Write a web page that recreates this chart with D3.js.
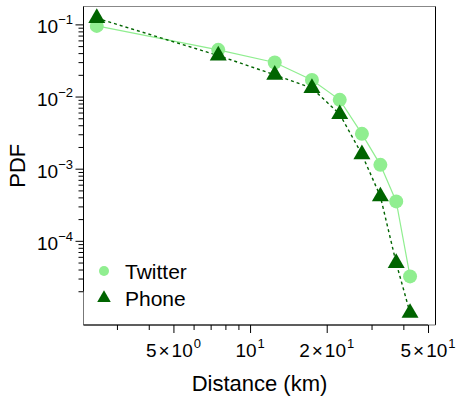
<!DOCTYPE html>
<html>
<head>
<meta charset="utf-8">
<script src="https://cdn.jsdelivr.net/npm/d3@7"></script>
<style>
  html, body { margin: 0; padding: 0; background: #fff; }
  svg { display: block; font-family: "Liberation Sans", Arial, sans-serif; }
</style>
</head>
<body>
<svg id="chart" width="457" height="398"></svg>
<script>
// ---- data ----
const distances = [2.5, 7.5, 12.5, 17.5, 22.5, 27.5, 32.5, 37.5, 42.5];
const twitterPDF = [0.0953, 0.0444, 0.0296, 0.0170, 0.0090, 0.00304, 0.00113, 0.000352, 0.0000321];
const phonePDF = [0.122, 0.0370, 0.0200, 0.0131, 0.00569, 0.00158, 0.000412, 0.0000493, 0.0000100];
const seriesNames = ["Twitter", "Phone"];
const xTickValues = [5, 10, 20, 50];
const xTickMantissa = ["5", "", "2", "5"];
const xTickExponent = ["0", "1", "1", "1"];
const xMinorTicks = [3, 4, 6, 7, 8, 9, 30, 40];
const yTickValues = [1e-1, 1e-2, 1e-3, 1e-4];
const yTickExponent = ["\u22121", "\u22122", "\u22123", "\u22124"];
const xTitle = "Distance (km)";
const yTitle = "PDF";

// ---- layout ----
const L = 83.5, R = 435.5, T = 6.5, B = 325;
const svg = d3.select("#chart");

const x = d3.scaleLog().domain([2.217, 53.5]).range([L, R]);
const y = d3.scaleLog().domain([0.177, 6.81e-6]).range([T, B]);

const yMinor = [];
[1e-1, 1e-2, 1e-3, 1e-4, 1e-5].forEach(d => {
  for (let k = 2; k <= 9; k++) {
    const v = k * d;
    if (v < 0.177 && v > 6.81e-6) yMinor.push(v);
  }
});

const light = "#90EE90", dark = "#006400";

// box
svg.append("line").attr("x1", L).attr("x2", R).attr("y1", T).attr("y2", T)
  .attr("stroke", "#888").attr("stroke-width", 1);
svg.append("line").attr("x1", R).attr("x2", R).attr("y1", T).attr("y2", B)
  .attr("stroke", "#000").attr("stroke-width", 1);
svg.append("line").attr("x1", L).attr("x2", L).attr("y1", T).attr("y2", B)
  .attr("stroke", "#777").attr("stroke-width", 1);
svg.append("line").attr("x1", L).attr("x2", R).attr("y1", B).attr("y2", B)
  .attr("stroke", "#777").attr("stroke-width", 1);

// Y axis
const yAxisMajor = d3.axisLeft(y).tickValues(yTickValues).tickSize(8).tickFormat("");
const yAxisMinor = d3.axisLeft(y).tickValues(yMinor).tickSize(5).tickFormat("");
const gy = svg.append("g").attr("transform", `translate(${L},0)`);
gy.call(yAxisMajor);
svg.append("g").attr("transform", `translate(${L},0)`).call(yAxisMinor).select(".domain").remove();
gy.select(".domain").attr("d", `M0,${T}V${y(2e-5)}`);
svg.selectAll("g .tick line").attr("stroke", "#000");
svg.selectAll(".domain").attr("stroke", "#000");

yTickValues.forEach((v, i) => {
  const t = svg.append("text")
    .attr("x", 73).attr("y", y(v) + 9)
    .attr("text-anchor", "end")
    .attr("font-size", 19).attr("fill", "#000");
  t.append("tspan").text("10");
  t.append("tspan").attr("dy", -9).attr("font-size", 13).text(yTickExponent[i]);
});

// X axis
const xAxisMajor = d3.axisBottom(x).tickValues(xTickValues).tickSize(8).tickFormat("");
const xAxisMinor = d3.axisBottom(x).tickValues(xMinorTicks).tickSize(5).tickFormat("");
const gx = svg.append("g").attr("transform", `translate(0,${B})`);
gx.call(xAxisMajor);
gx.select(".domain").attr("d", `M${L},0H${x(50)}`).attr("stroke", "#000");
svg.append("g").attr("transform", `translate(0,${B})`).call(xAxisMinor).select(".domain").remove();
svg.selectAll("g .tick line").attr("stroke", "#000");

xTickValues.forEach((v, i) => {
  const t = svg.append("text")
    .attr("x", x(v)).attr("y", 357)
    .attr("text-anchor", "middle")
    .attr("font-size", 19).attr("fill", "#000");
  if (xTickMantissa[i]) {
    t.append("tspan").text(xTickMantissa[i]);
    t.append("tspan").attr("dx", 2).text("\u00D7");
    t.append("tspan").attr("dx", 2).text("10");
  } else {
    t.append("tspan").text("10");
  }
  t.append("tspan").attr("dx", 1).attr("dy", -9).attr("font-size", 13).text(xTickExponent[i]);
});

// titles
svg.append("text").attr("x", (L + R) / 2).attr("y", 391)
  .attr("text-anchor", "middle").attr("font-size", 22).attr("fill", "#000").text(xTitle);
svg.append("text").attr("transform", `translate(25,${(T + B) / 2}) rotate(-90)`)
  .attr("text-anchor", "middle").attr("font-size", 22).attr("fill", "#000").text(yTitle);

// series
const twData = distances.map((d, i) => [d, twitterPDF[i]]);
const phData = distances.map((d, i) => [d, phonePDF[i]]);
const lineGen = d3.line().x(d => x(d[0])).y(d => y(d[1]));

svg.append("path").attr("d", lineGen(twData)).attr("fill", "none")
  .attr("stroke", light).attr("stroke-width", 1.2);
svg.append("path").attr("d", lineGen(phData)).attr("fill", "none")
  .attr("stroke", dark).attr("stroke-width", 1.4).attr("stroke-dasharray", "3,3");

svg.append("g").selectAll("circle").data(twData).join("circle")
  .attr("cx", d => x(d[0])).attr("cy", d => y(d[1])).attr("r", 7).attr("fill", light);

const tri = d3.symbol().type(d3.symbolTriangle).size(125);
svg.append("g").selectAll("path").data(phData).join("path")
  .attr("transform", d => `translate(${x(d[0])},${y(d[1])})`)
  .attr("d", tri).attr("fill", dark);

// legend
svg.append("circle").attr("cx", 104).attr("cy", 271).attr("r", 5).attr("fill", light);
svg.append("path").attr("transform", "translate(104,298)")
  .attr("d", d3.symbol().type(d3.symbolTriangle).size(80)).attr("fill", dark);
svg.append("text").attr("x", 125).attr("y", 279).attr("font-size", 21).attr("fill", "#000").text(seriesNames[0]);
svg.append("text").attr("x", 125).attr("y", 305.5).attr("font-size", 21).attr("fill", "#000").text(seriesNames[1]);
</script>
</body>
</html>
